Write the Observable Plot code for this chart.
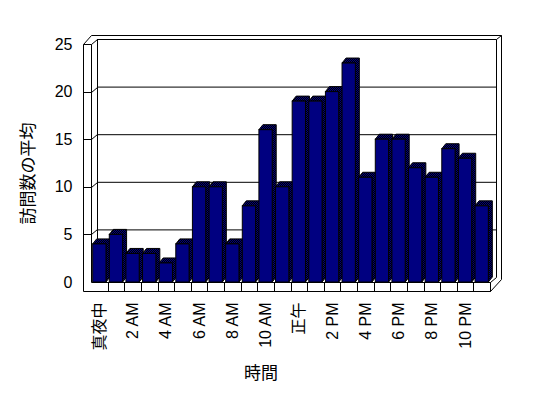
<!DOCTYPE html>
<html><head><meta charset="utf-8">
<script src="https://cdn.jsdelivr.net/npm/d3@7"></script>
<script src="https://cdn.jsdelivr.net/npm/@observablehq/plot@0.6"></script>
<style>body{margin:0;background:#fff}</style>
</head><body><div id="chart"></div>
<script>
const hours = [0,1,2,3,4,5,6,7,8,9,10,11,12,13,14,15,16,17,18,19,20,21,22,23];
const visits = [4,5,3,3,2,4,10,10,4,8,16,10,19,19,20,23,11,15,15,12,11,14,13,8];
const tickHours = [0,2,4,6,8,10,12,14,16,18,20,22];
const tickLabels = ["真夜中","2 AM","4 AM","6 AM","8 AM","10 AM","正午","2 PM","4 PM","6 PM","8 PM","10 PM"];
const yTicks = [0,5,10,15,20,25];
const gridValues = [5,10,15,20,25];
const yLabel = "訪問数の平均";
const xLabel = "時間";

const data = hours.map((h, i) => ({hour: h, visits: visits[i]}));
const FONT = '"Liberation Sans","Noto Sans CJK JP",sans-serif';

function bw(sx) { return typeof sx.bandwidth === "function" ? sx.bandwidth() : sx.bandwidth; }

// walls + floor of the 3D box, positioned from the scales
function walls(index, scales, values, dims) {
  const sx = scales.x, sy = scales.y;
  const xI = dims.marginLeft, xR = dims.width - dims.marginRight;
  const yB = sy(0), yT = sy(25), yF = yB + 9, xL = xI - 8;
  const b = bw(sx);
  const g = d3.create("svg:g").attr("transform", "translate(0.5,0.5)")
    .attr("fill", "none").attr("stroke", "black");
  let p = "";
  // back wall
  p += `M${xI+6},${yB-5}L${xI+6},${yT-5}L${xR+6},${yT-5}L${xR+6},${yB-5}L${xR},${yB}`;
  // outer top & right
  p += `M${xL},${yT}L${xL+8},${yT-9}L${xR+11},${yT-9}L${xR+11},${yB-3}L${xR},${yF}`;
  p += `M${xI},${yT}L${xI+6},${yT-5}M${xR+6},${yT-5}L${xR+11},${yT-9}`;
  // left wall
  p += `M${xL},${yF}L${xL},${yT}L${xI},${yT}L${xI},${yB}`;
  // floor
  p += `M${xI},${yB}L${xR},${yB}L${xR},${yF}L${xL},${yF}`;
  for (const h of hours) {
    const xb = sx(h) + b + (sx(hours[1]) - sx(hours[0]) - b) / 2;
    p += `M${Math.round(xb)},${yB}L${Math.round(xb)},${yF}`;
  }
  for (const v of gridValues) {
    if (v === 25) continue;
    const y = Math.round(sy(v));
    p += `M${xL},${y}L${xI},${y}L${xI+6},${y-5}`;
  }
  g.append("path").attr("d", p);
  return g.node();
}

// checker pattern + depth (top and side) faces of the bars
function depth(index, scales, values, dims) {
  const sx = scales.x, sy = scales.y;
  const b = bw(sx);
  const g = d3.create("svg:g");
  const defs = g.append("defs");
  const pat = defs.append("pattern").attr("id", "chk").attr("width", 2).attr("height", 2)
    .attr("patternUnits", "userSpaceOnUse");
  pat.append("rect").attr("width", 2).attr("height", 2).attr("fill", "#000000");
  pat.append("rect").attr("width", 1).attr("height", 1).attr("fill", "#000080");
  pat.append("rect").attr("x", 1).attr("y", 1).attr("width", 1).attr("height", 1).attr("fill", "#000080");
  const dx = 4, dy = 5;
  for (const d of data) {
    const x0 = sx(d.hour), x1 = x0 + b, yv = sy(d.visits), y0 = sy(0);
    g.append("path")
      .attr("d", `M${x0},${yv}L${x0+dx},${yv-dy}L${x1+dx},${yv-dy}L${x1+dx},${y0-dy}L${x1},${y0}L${x1},${yv}Z`)
      .attr("fill", "url(#chk)").attr("stroke", "black").attr("stroke-width", 1);
  }
  return g.node();
}

const chart = Plot.plot({
  width: 548, height: 398,
  marginLeft: 91, marginRight: 58, marginTop: 44, marginBottom: 116,
  x: {type: "band", domain: hours, paddingInner: 0.2, paddingOuter: 0.1, round: false},
  y: {domain: [0, 25]},
  style: {fontFamily: FONT, fontSize: "16px", background: "white", color: "black"},
  marks: [
    Plot.ruleY(gridValues, {dx: 6, dy: -5, stroke: "black", strokeOpacity: 1}),
    walls,
    depth,
    Plot.barY(data, {x: "hour", y: "visits", fill: "#000080", stroke: "black", strokeWidth: 1}),
    Plot.axisY({ticks: yTicks, tickSize: 0, tickPadding: 19, fontSize: 16, label: null}),
    Plot.axisX({ticks: tickHours, tickFormat: h => tickLabels[tickHours.indexOf(h)], tickSize: 0,
      tickPadding: 20, tickRotate: -90, fontSize: 16, label: null}),
    Plot.text([yLabel], {frameAnchor: "left", textAnchor: "middle", lineAnchor: "middle", dx: -63, dy: 10, rotate: -90, fontSize: 17, fill: "black"}),
    Plot.text([xLabel], {frameAnchor: "bottom", dx: -30, dy: 96, fontSize: 17, fill: "black"})
  ]
});
document.getElementById("chart").append(chart);
</script>
</body></html>
